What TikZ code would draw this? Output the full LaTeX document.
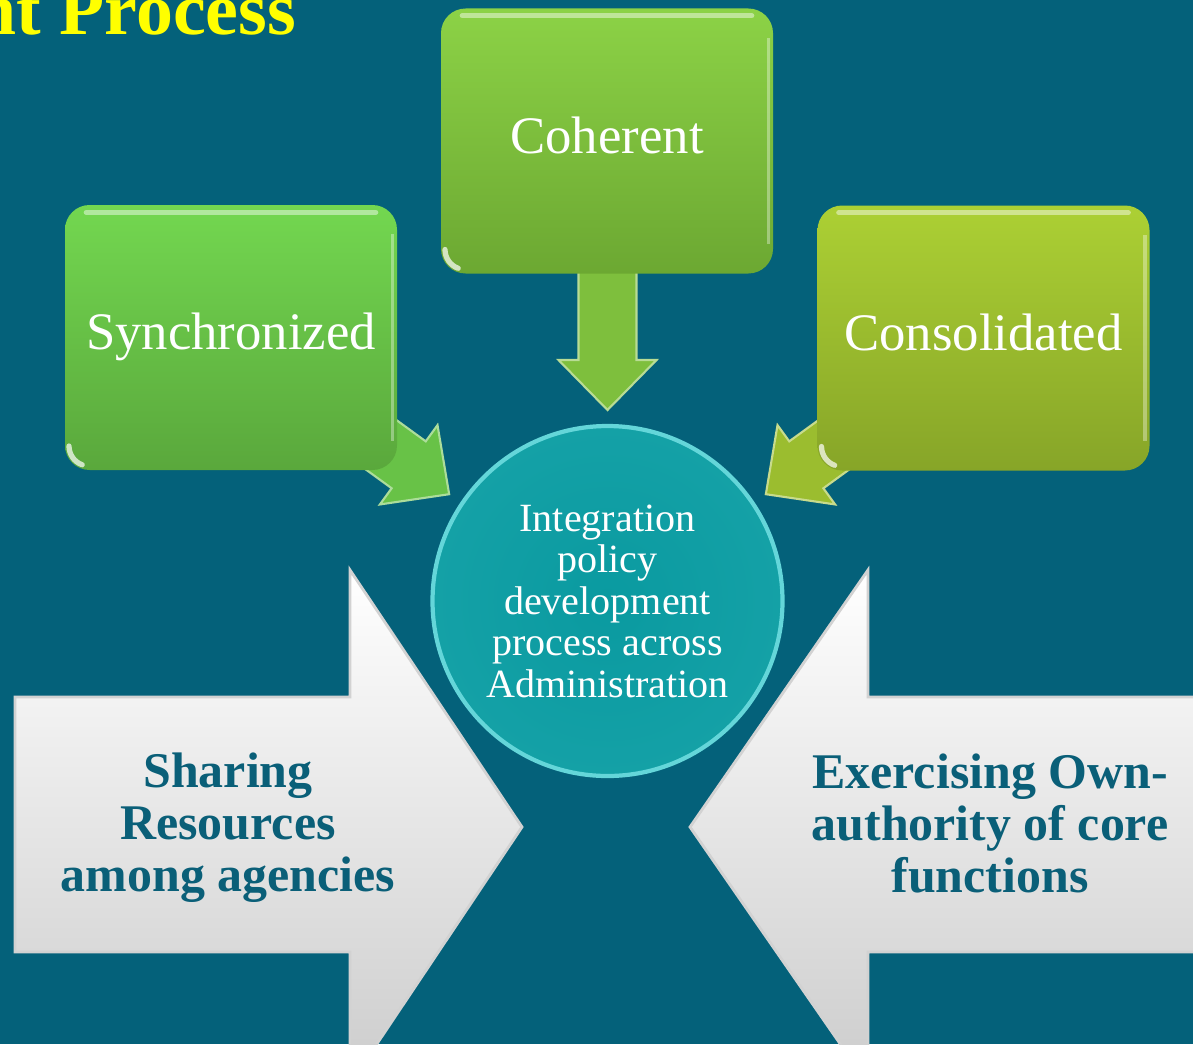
\documentclass[tikz,border=0pt]{standalone}
\usepackage{fontspec}
\setmainfont{Liberation Serif}
\usetikzlibrary{calc}

\definecolor{SlideBlue}{HTML}{04617A}
\definecolor{TitleYellow}{HTML}{FFFF00}
\definecolor{DeepTeal}{HTML}{0A5F78}
\definecolor{HubTeal}{HTML}{0A9AA0}
\definecolor{HubRim}{HTML}{8AF0F2}
\definecolor{SyncTop}{HTML}{73D750}
\definecolor{SyncBot}{HTML}{5AA83C}
\definecolor{CohTop}{HTML}{8CD246}
\definecolor{CohBot}{HTML}{6CA832}
\definecolor{ConsTop}{HTML}{ACD034}
\definecolor{ConsBot}{HTML}{87A528}

\tikzset{
  greenbox/.style={rounded corners=7pt, minimum width=3.32cm, minimum height=2.65cm,
    inner sep=0pt, text=white, font=\fontsize{15}{18}\selectfont,
    text height=0.9em, text depth=0.2em},
  bigarrow/.style={top color=white, bottom color=gray!40, draw=gray!35, line width=0.8pt},
  arrowtext/.style={text=DeepTeal, align=center, font=\bfseries\fontsize{14.2}{14.8}\selectfont},
}

\begin{document}
\begin{tikzpicture}
            \useasboundingbox (0,0) rectangle (11.93,10.44);
            \clip (0,0) rectangle (11.93,10.44);
            \fill[SlideBlue] (0,0) rectangle (11.93,10.44);

            % heading, cut off by the top edge
            \node[anchor=base west, inner sep=0pt, text=TitleYellow,
                  font=\bfseries\fontsize{21}{25}\selectfont] (title) at (-0.25,10.09) {nt Process};

            % the two big block arrows
            \draw[bigarrow] (0.15,3.47) -- (3.50,3.47) -- (3.50,4.74) -- (5.22,2.17)
                -- (3.50,-0.40) -- (3.50,0.92) -- (0.15,0.92) -- cycle;
            \draw[bigarrow] (12.10,3.47) -- (8.68,3.47) -- (8.68,4.74) -- (6.90,2.17)
                -- (8.68,-0.40) -- (8.68,0.92) -- (12.10,0.92) -- cycle;
            \node[arrowtext] (share) at (2.28,2.16) {Sharing\\Resources\\among agencies};
            \node[arrowtext] (own) at (9.90,2.21) {Exercising Own-\\authority of core\\functions};

            % centre circle
            \node[circle, minimum size=3.5cm, inner sep=0pt, inner color=HubTeal,
                  outer color=HubTeal!92!HubRim, draw=HubRim!70!HubTeal, line width=1.2pt,
                  text=white, align=center, font=\fontsize{11.4}{11.8}\selectfont]
                (hub) at (6.075,4.43) {Integration\\policy\\development\\process across\\Administration};

            % small green arrows into the circle
            \foreach \ang/\rot/\col in {146/-36/SyncTop!55!SyncBot, 90/-90/CohTop!55!CohBot, 34/-144/ConsTop!55!ConsBot}
              \filldraw[fill=\col, draw=\col!55!white, line width=0.6pt,
                        shift={($(hub.center)+(\ang:1.91)$)}, rotate=\rot]
                (-1.5,0.29) -- (-0.5,0.29) -- (-0.5,0.49) -- (0,0)
                -- (-0.5,-0.49) -- (-0.5,-0.29) -- (-1.5,-0.29) -- cycle;

            % the three green boxes
            \node[greenbox, top color=SyncTop, bottom color=SyncBot] (sync) at (2.31,7.065) {Synchronized};
            \node[greenbox, top color=CohTop, bottom color=CohBot] (coh) at (6.07,9.03) {Coherent};
            \node[greenbox, top color=ConsTop, bottom color=ConsBot] (cons) at (9.835,7.06) {Consolidated};

            \foreach \card in {sync, coh, cons} {
              \draw[white, opacity=0.45, line width=1.5pt, line cap=round]
                ($(\card.north west)+(0.22,-0.08)$) -- ($(\card.north east)+(-0.22,-0.08)$);
              \draw[white, opacity=0.35, line width=1pt]
                ($(\card.north east)+(-0.05,-0.3)$) -- ($(\card.south east)+(-0.05,0.3)$);
              \draw[white, opacity=0.7, line width=1.5pt, line cap=round]
                ($(\card.south west)+(0.047,0.247)$) arc (180:250:0.2);
            }
            \end{tikzpicture}
\end{document}
